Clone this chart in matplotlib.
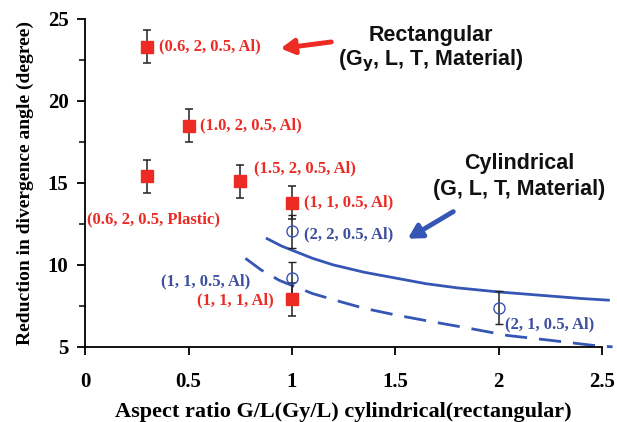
import matplotlib
matplotlib.use("Agg")
import matplotlib.pyplot as plt
from matplotlib.ticker import MultipleLocator

# Rectangular (red squares)
rect_x = [0.3, 0.5, 0.3, 0.75, 1.0, 1.0]
rect_y = [23.3, 18.5, 15.4, 15.1, 13.8, 7.9]
rect_err = [1.0, 1.0, 1.0, 1.0, 1.0, 1.0]
rect_labels = ["(0.6, 2, 0.5, Al)", "(1.0, 2, 0.5, Al)", "(0.6, 2, 0.5, Plastic)",
               "(1.5, 2, 0.5, Al)", "(1, 1, 0.5, Al)", "(1, 1, 1, Al)"]

# Cylindrical (blue open circles)
cyl_x = [1.0, 1.0, 2.0]
cyl_y = [12.05, 9.2, 7.4]
cyl_err = [1.0, 1.0, 1.0]
cyl_labels = ["(2, 2, 0.5, Al)", "(1, 1, 0.5, Al)", "(2, 1, 0.5, Al)"]

# Model curves
solid_x = [0.88, 0.95, 1.0, 1.1, 1.2, 1.35, 1.5, 1.65, 1.8, 2.0, 2.2, 2.4, 2.53]
solid_y = [11.6, 11.15, 10.9, 10.4, 10.0, 9.55, 9.2, 8.85, 8.6, 8.35, 8.15, 7.95, 7.85]
dash_x = [0.775, 0.85, 0.94, 1.0, 1.1, 1.25, 1.35, 1.5, 1.67, 1.85, 2.04, 2.25, 2.45, 2.55]
dash_y = [10.4, 9.7, 9.05, 8.75, 8.25, 7.7, 7.35, 6.95, 6.55, 6.15, 5.7, 5.4, 5.1, 5.0]

RED = "#ec2b25"
BLUE = "#3656b5"
BLUE_T = "#3d4f9f"
SERIF = "Liberation Serif"
SANS = "Liberation Sans"

fig = plt.figure(figsize=(6.17, 4.22), dpi=100)
ax = fig.add_axes([0.138, 0.178, 0.838, 0.777])

ax.plot(solid_x, solid_y, color=BLUE, lw=2.0, clip_on=False, zorder=2)
ax.plot(dash_x, dash_y, color=BLUE, lw=2.0, dashes=(8, 4.3), clip_on=False, zorder=2)

ax.errorbar(rect_x, rect_y, yerr=rect_err, fmt="s", color=RED, ms=8, mec=RED,
            ecolor="#222222", elinewidth=1.1, capsize=3, capthick=1.1, zorder=3)
ax.errorbar(cyl_x, cyl_y, yerr=cyl_err, fmt="o", mfc="none", mec=BLUE, ms=8, mew=1.0,
            ecolor="#222222", elinewidth=1.1, capsize=3, capthick=1.1, zorder=3)

lab_kw = dict(fontfamily=SERIF, fontweight="bold", fontsize=12, va="center")
rect_pos = [(0.355, 23.3, "left"), (0.555, 18.5, "left"), (0.01, 12.8, "left"),
            (0.815, 15.9, "left"), (1.06, 13.8, "left"), (0.91, 7.85, "right")]
for (tx, ty, ha), s in zip(rect_pos, rect_labels):
    ax.text(tx, ty, s, color=RED, ha=ha, **lab_kw)
cyl_pos = [(1.06, 11.85, "left"), (0.8, 9.0, "right"), (2.03, 6.35, "left")]
for (tx, ty, ha), s in zip(cyl_pos, cyl_labels):
    ax.text(tx, ty, s, color=BLUE_T, ha=ha, **lab_kw)

tkw = dict(fontfamily=SANS, fontweight="bold", fontsize=15.5, ha="center", va="center",
           color="#111111")
ax.text(1.67, 24.0, "Rectangular", **tkw)
ax.text(1.67, 22.45, "(G$_\\mathbf{y}$, L, T, Material)", **tkw)
ax.text(2.1, 16.2, "Cylindrical", **tkw)
ax.text(2.1, 14.6, "(G, L, T, Material)", **tkw)

ax.annotate("", xy=(0.945, 23.2), xytext=(1.19, 23.6),
            arrowprops=dict(arrowstyle="-|>,head_length=0.8,head_width=0.45",
                            color=RED, lw=3.5, shrinkA=0, shrinkB=0))
ax.annotate("", xy=(1.56, 11.6), xytext=(1.78, 13.25),
            arrowprops=dict(arrowstyle="-|>,head_length=0.8,head_width=0.45",
                            color=BLUE, lw=3.5, shrinkA=0, shrinkB=0))

ax.set_xlim(0, 2.5)
ax.set_ylim(5, 25)
ax.spines["top"].set_visible(False)
ax.spines["right"].set_visible(False)
for sp in ("left", "bottom"):
    ax.spines[sp].set_linewidth(1.3)
ax.set_xticks([0, 0.5, 1, 1.5, 2, 2.5])
ax.set_xticklabels(["0", "0.5", "1", "1.5", "2", "2.5"])
ax.set_yticks([5, 10, 15, 20, 25])
ax.yaxis.set_minor_locator(MultipleLocator(2.5))
ax.tick_params(axis="both", which="major", direction="out", length=6, width=1.3,
               labelsize=15, pad=6)
ax.tick_params(axis="x", which="major", pad=12)
ax.tick_params(axis="y", which="minor", direction="out", length=4, width=1.1)
for lbl in ax.get_xticklabels() + ax.get_yticklabels():
    lbl.set_fontfamily(SERIF)
    lbl.set_fontweight("bold")
ax.set_xlabel("Aspect ratio G/L(Gy/L) cylindrical(rectangular)", fontfamily=SERIF,
              fontweight="bold", fontsize=16, labelpad=7)
ax.set_ylabel("Reduction in divergence angle (degree)", fontfamily=SERIF,
              fontweight="bold", fontsize=14, labelpad=10)

fig.savefig("out.png", dpi=100)
